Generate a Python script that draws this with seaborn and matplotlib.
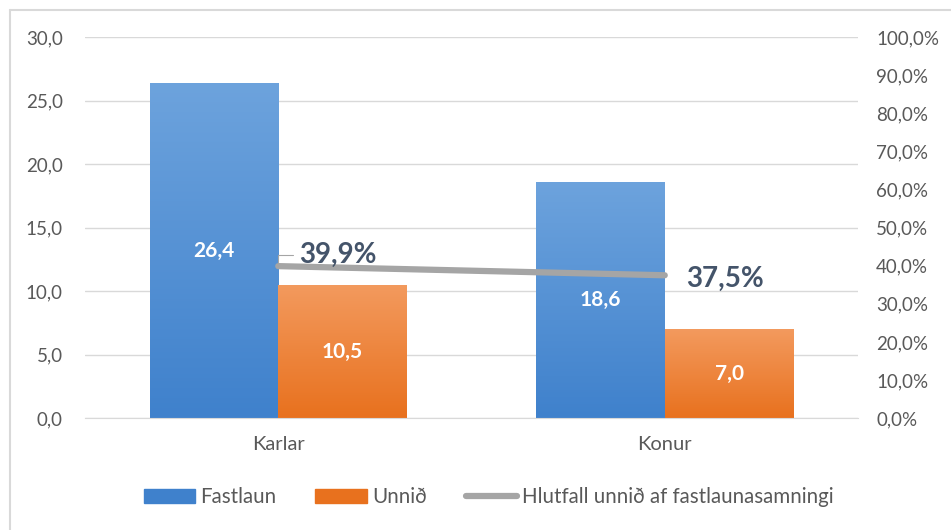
import numpy as np
import pandas as pd
import seaborn as sns
import matplotlib.pyplot as plt
from matplotlib.colors import LinearSegmentedColormap
from matplotlib.patches import Patch
from matplotlib.lines import Line2D

# gögn
hopar = ['Karlar', 'Konur']
fastlaun = [26.4, 18.6]
unnid = [10.5, 7.0]
hlutfall = [0.399, 0.375]
hlutfall_txt = ['39,9%', '37,5%']
radir = ['Fastlaun', 'Unnið']

df = pd.DataFrame({
    'hopur': hopar * 2,
    'gildi': fastlaun + unnid,
    'rod': [radir[0]] * 2 + [radir[1]] * 2,
})

sns.set_style('white')
plt.rcParams['font.family'] = ['Lato', 'DejaVu Sans']

blar = ('#6DA3DD', '#3F81CC')
appel = ('#F39A5E', '#E8711E')
grar = '#A5A5A5'
texti = '#595959'

fig = plt.figure(figsize=(9.51, 5.30), dpi=100)
ax = fig.add_axes([0.0894, 0.211, 0.8128, 0.719])

sns.barplot(data=df, x='hopur', y='gildi', hue='rod', palette=[blar[1], appel[1]],
            width=0.665, gap=0, ax=ax, legend=False, errorbar=None)

# litastigull i sulunum
for p, lit in zip(ax.patches, [blar, blar, appel, appel]):
    x0, y0 = p.get_x(), p.get_y()
    w, h = p.get_width(), p.get_height()
    cmap = LinearSegmentedColormap.from_list('g', [lit[1], lit[0]])
    grad = np.linspace(0, 1, 256).reshape(-1, 1)
    im = ax.imshow(grad, cmap=cmap, origin='lower', aspect='auto',
                   extent=[x0, x0 + w, y0, y0 + h], zorder=2)
    im.set_clip_path(p)
    p.set_facecolor('none')
    p.set_edgecolor('none')
    ax.text(x0 + w / 2, y0 + h / 2, f'{h:.1f}'.replace('.', ','), ha='center', va='center',
            color='white', fontsize=15, fontweight='bold', zorder=4)

ax.set_xlim(-0.5, 1.5)
ax.set_ylim(0, 30)
ax.set_yticks(np.arange(0, 31, 5))
ax.set_yticklabels([f'{v:.1f}'.replace('.', ',') for v in np.arange(0, 31, 5)])
ax.yaxis.grid(True, color='#D9D9D9', linewidth=1)
ax.set_axisbelow(True)
ax.set_xlabel('')
ax.set_ylabel('')
ax.tick_params(axis='both', length=0, labelcolor=texti)
ax.tick_params(axis='y', pad=16, labelsize=13.5)
ax.tick_params(axis='x', pad=13, labelsize=14.5)
sns.despine(ax=ax, left=True, bottom=True)
ax.spines['bottom'].set_visible(True)
ax.spines['bottom'].set_color('#D9D9D9')

ax2 = ax.twinx()
sns.lineplot(x=np.arange(len(hopar)), y=hlutfall, ax=ax2, color=grar, linewidth=4.5,
             solid_capstyle='round', zorder=3)
ax2.set_ylim(0, 1)
ax2.set_yticks(np.arange(0, 1.01, 0.1))
ax2.set_yticklabels([f'{v * 100:.1f}%'.replace('.', ',') for v in np.arange(0, 1.01, 0.1)])
ax2.tick_params(axis='y', length=0, labelsize=13.5, labelcolor=texti, pad=13)
for s in ax2.spines.values():
    s.set_visible(False)

# merkingar a linu
ax2.annotate(hlutfall_txt[0], xy=(0, hlutfall[0]), xytext=(0.055, hlutfall[0] + 0.03),
             fontsize=20, fontweight='bold', color='#44546A', va='center', ha='left',
             arrowprops=dict(arrowstyle='-', color='#A5A5A5', lw=0.8,
                             connectionstyle='angle,angleA=0,angleB=90,rad=0'))
ax2.text(1.055, hlutfall[1] - 0.01, hlutfall_txt[1], fontsize=20, fontweight='bold',
         color='#44546A', va='center', ha='left')

handles = [Patch(color=blar[1], label=radir[0]), Patch(color=appel[1], label=radir[1]),
           Line2D([], [], color=grar, linewidth=4.5, solid_capstyle='round',
                  label='Hlutfall unnið af fastlaunasamningi')]
fig.legend(handles=handles, loc='center', bbox_to_anchor=(0.514, 0.062), ncol=3, frameon=False,
           fontsize=14.8, labelcolor=texti, handlelength=2.5, handleheight=0.7,
           handletextpad=0.25, columnspacing=1.9)

# rammi
fig.add_artist(Line2D([10 / 951, 10 / 951], [0, 1 - 10 / 530], color='#D9D9D9', lw=1.5))
fig.add_artist(Line2D([10 / 951, 1], [1 - 10 / 530, 1 - 10 / 530], color='#D9D9D9', lw=1.5))

fig.savefig('out.png', dpi=100)
